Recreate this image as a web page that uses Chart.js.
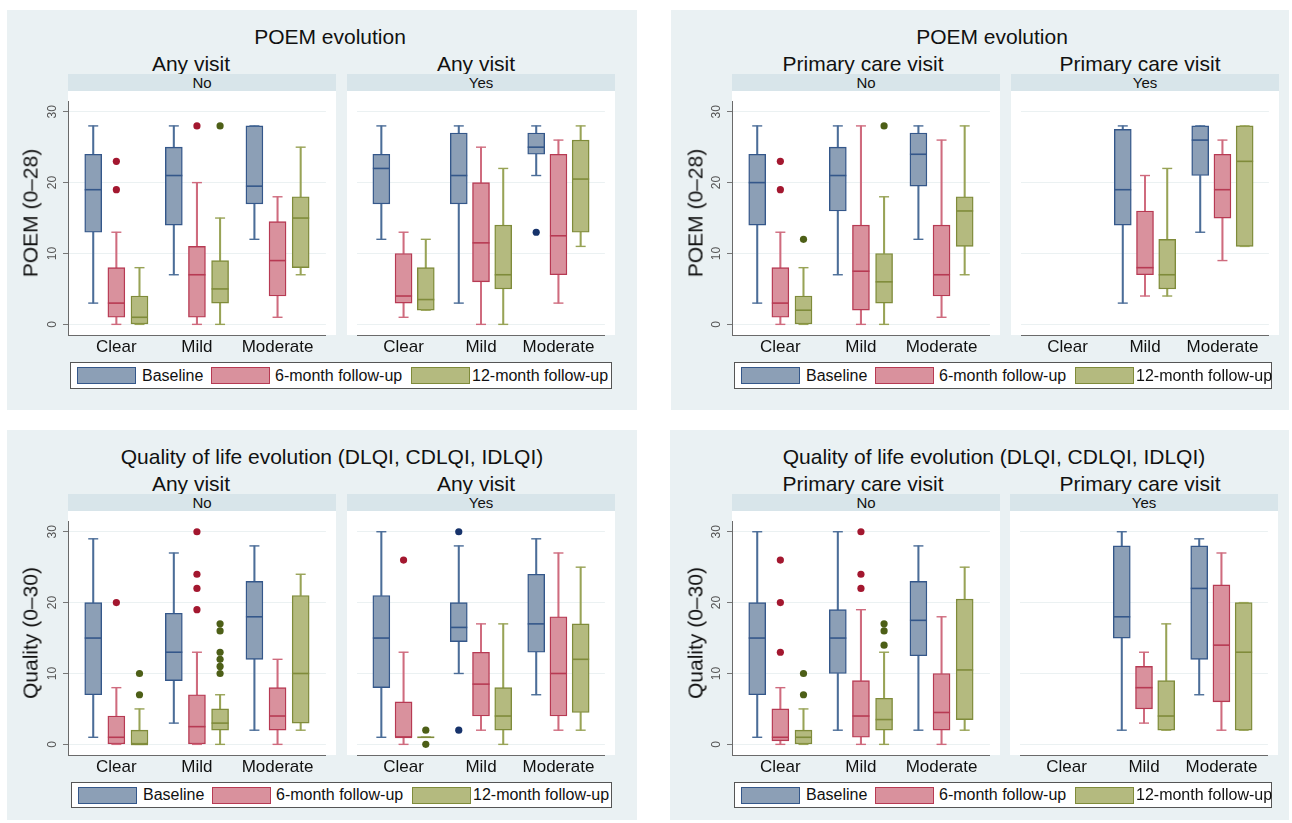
<!DOCTYPE html>
<html><head><meta charset="utf-8">
<script src="https://cdn.jsdelivr.net/npm/chart.js@4.4.1/dist/chart.umd.min.js"></script>
<style>
body{margin:0;width:1292px;height:823px;background:#fff;position:relative;overflow:hidden;font-family:"Liberation Sans",Arial,Helvetica,sans-serif;color:#111;}
.bg{position:absolute;background:#eaf1f3;}
.ctext{position:absolute;white-space:nowrap;transform:translate(-50%,-50%);line-height:1;}
.strip{position:absolute;background:#d8e5ea;font-size:15px;text-align:center;line-height:17px;}
.plotbg{position:absolute;background:#fff;}
.ytitle{position:absolute;font-size:21px;white-space:nowrap;transform:translate(-50%,-50%) rotate(-90deg);line-height:1;}
.legend{position:absolute;background:#fff;border:1px solid #555;box-sizing:border-box;}
.key{position:absolute;box-sizing:border-box;border:1.5px solid;}
.ltext{position:absolute;font-size:16px;white-space:nowrap;line-height:1;transform:translateY(-50%);}
canvas{position:absolute;}
</style></head><body>
<script>
// ---------- DATA ----------
const categories = ['Clear', 'Mild', 'Moderate'];
const seriesNames = ['Baseline', '6-month follow-up', '12-month follow-up'];
const yTicks = [0, 10, 20, 30];

// each category: [min, q1, median, q3, max]; null = no data
// POEM, Any visit = No
const poemAnyNoBaseline = [[3,13,19,24,28],[7,14,21,25,28],[12,17,19.5,28,28]];
const poemAnyNo6m       = [[0,1,3,8,13],[0,1,7,11,20],[1,4,9,14.5,18]];
const poemAnyNo12m      = [[0,0,1,4,8],[0,3,5,9,15],[7,8,15,18,25]];
// outliers per series: [categoryIndex, value]
const poemAnyNoOutBaseline = [];
const poemAnyNoOut6m       = [[0,23],[0,19],[1,28]];
const poemAnyNoOut12m      = [[1,28]];

// POEM, Any visit = Yes
const poemAnyYesBaseline = [[12,17,22,24,28],[3,17,21,27,28],[21,24,25,27,28]];
const poemAnyYes6m       = [[1,3,4,10,13],[0,6,11.5,20,25],[3,7,12.5,24,26]];
const poemAnyYes12m      = [[2,2,3.5,8,12],[0,5,7,14,22],[11,13,20.5,26,28]];
const poemAnyYesOutBaseline = [[2,13]];
const poemAnyYesOut6m       = [];
const poemAnyYesOut12m      = [];

// POEM, Primary care visit = No
const poemPcNoBaseline = [[3,14,20,24,28],[7,16,21,25,28],[12,19.5,24,27,28]];
const poemPcNo6m       = [[0,1,3,8,13],[0,2,7.5,14,28],[1,4,7,14,26]];
const poemPcNo12m      = [[0,0,2,4,8],[0,3,6,10,18],[7,11,16,18,28]];
const poemPcNoOutBaseline = [];
const poemPcNoOut6m       = [[0,23],[0,19]];
const poemPcNoOut12m      = [[0,12],[1,28]];

// POEM, Primary care visit = Yes
const poemPcYesBaseline = [null,[3,14,19,27.5,28],[13,21,26,28,28]];
const poemPcYes6m       = [null,[4,7,8,16,21],[9,15,19,24,26]];
const poemPcYes12m      = [null,[4,5,7,12,22],[11,11,23,28,28]];
const poemPcYesOutBaseline = [];
const poemPcYesOut6m       = [];
const poemPcYesOut12m      = [];

// Quality, Any visit = No
const qolAnyNoBaseline = [[1,7,15,20,29],[3,9,13,18.5,27],[2,12,18,23,28]];
const qolAnyNo6m       = [[0,0,1,4,8],[0,0,2.5,7,13],[0,2,4,8,12]];
const qolAnyNo12m      = [[0,0,0,2,5],[0,2,3,5,7],[2,3,10,21,24]];
const qolAnyNoOutBaseline = [];
const qolAnyNoOut6m       = [[0,20],[1,30],[1,24],[1,22],[1,19]];
const qolAnyNoOut12m      = [[0,10],[0,7],[1,17],[1,16],[1,13],[1,12],[1,11],[1,10]];

// Quality, Any visit = Yes
const qolAnyYesBaseline = [[1,8,15,21,30],[10,14.5,16.5,20,28],[7,13,17,24,29]];
const qolAnyYes6m       = [[0,1,1,6,13],[2,4,8.5,13,17],[2,4,10,18,27]];
const qolAnyYes12m      = [[1,1,1,1,1],[0,2,4,8,17],[2,4.5,12,17,25]];
const qolAnyYesOutBaseline = [[1,30],[1,2]];
const qolAnyYesOut6m       = [[0,26]];
const qolAnyYesOut12m      = [[0,2],[0,0]];

// Quality, Primary care visit = No
const qolPcNoBaseline = [[1,7,15,20,30],[2,10,15,19,30],[2,12.5,17.5,23,28]];
const qolPcNo6m       = [[0,0.5,1,5,8],[0,1,4,9,19],[0,2,4.5,10,18]];
const qolPcNo12m      = [[0,0,1,2,5],[0,2,3.5,6.5,13],[2,3.5,10.5,20.5,25]];
const qolPcNoOutBaseline = [];
const qolPcNoOut6m       = [[0,26],[0,20],[0,13],[1,30],[1,24],[1,22]];
const qolPcNoOut12m      = [[0,10],[0,7],[1,17],[1,16],[1,14]];

// Quality, Primary care visit = Yes
const qolPcYesBaseline = [null,[2,15,18,28,30],[7,12,22,28,29]];
const qolPcYes6m       = [null,[3,5,8,11,13],[2,6,14,22.5,27]];
const qolPcYes12m      = [null,[2,2,4,9,17],[2,2,13,20,20]];
const qolPcYesOutBaseline = [];
const qolPcYesOut6m       = [];
const qolPcYesOut12m      = [];

// ---------- STYLE ----------
const FONT = '"Liberation Sans", Arial, Helvetica, sans-serif';
Chart.defaults.font.family = FONT;
const fillCol    = ['#8c9fb6', '#d9919d', '#b4ba7f'];
const borderCol  = ['#34578a', '#b73a53', '#7f8b3a'];
const whiskerCol = ['#4b6d98', '#cf6b7e', '#98a356'];
const outCol     = ['#17336b', '#a3172f', '#4d5f17'];
const offsets = [-0.287, 0, 0.287];

// ---------- LAYOUT ----------
const panels = [
  {bg:[7,10,630,400], title:'POEM evolution', tx:330, ty:36, sub:'Any visit', sx:[191,476], sy:63,
   L:[68,347], W:268, stripTop:74, plotTop:91, plotBot:335, leg:[70,362,542,27], yt:'POEM (0\u201328)', ytx:30,
   stats:[[poemAnyNoBaseline,poemAnyNo6m,poemAnyNo12m],[poemAnyYesBaseline,poemAnyYes6m,poemAnyYes12m]],
   outs:[[poemAnyNoOutBaseline,poemAnyNoOut6m,poemAnyNoOut12m],[poemAnyYesOutBaseline,poemAnyYesOut6m,poemAnyYesOut12m]]},
  {bg:[671,10,618,400], title:'POEM evolution', tx:992, ty:36, sub:'Primary care visit', sx:[863,1140], sy:63,
   L:[732,1011], W:268, stripTop:74, plotTop:91, plotBot:335, leg:[734,362,538,27], yt:'POEM (0\u201328)', ytx:695,
   stats:[[poemPcNoBaseline,poemPcNo6m,poemPcNo12m],[poemPcYesBaseline,poemPcYes6m,poemPcYes12m]],
   outs:[[poemPcNoOutBaseline,poemPcNoOut6m,poemPcNoOut12m],[poemPcYesOutBaseline,poemPcYesOut6m,poemPcYesOut12m]]},
  {bg:[7,430,630,390], title:'Quality of life evolution (DLQI, CDLQI, IDLQI)', tx:332, ty:456, sub:'Any visit', sx:[191,476], sy:483,
   L:[68,347], W:268, stripTop:494, plotTop:511, plotBot:755, leg:[71,782,541,26], yt:'Quality (0\u201330)', ytx:30,
   stats:[[qolAnyNoBaseline,qolAnyNo6m,qolAnyNo12m],[qolAnyYesBaseline,qolAnyYes6m,qolAnyYes12m]],
   outs:[[qolAnyNoOutBaseline,qolAnyNoOut6m,qolAnyNoOut12m],[qolAnyYesOutBaseline,qolAnyYesOut6m,qolAnyYesOut12m]]},
  {bg:[670,430,619,390], title:'Quality of life evolution (DLQI, CDLQI, IDLQI)', tx:994, ty:456, sub:'Primary care visit', sx:[863,1140], sy:483,
   L:[732,1010], W:268, stripTop:494, plotTop:511, plotBot:755, leg:[734,782,538,26], yt:'Quality (0\u201330)', ytx:695,
   stats:[[qolPcNoBaseline,qolPcNo6m,qolPcNo12m],[qolPcYesBaseline,qolPcYes6m,qolPcYes12m]],
   outs:[[qolPcNoOutBaseline,qolPcNoOut6m,qolPcNoOut12m],[qolPcYesOutBaseline,qolPcYesOut6m,qolPcYesOut12m]]}
];
const stripLabels = ['No', 'Yes'];

function el(cls, css, text) {
  const d = document.createElement('div');
  d.className = cls;
  Object.assign(d.style, css);
  if (text !== undefined) d.textContent = text;
  document.body.appendChild(d);
  return d;
}

function makeChart(left, top, W, H, showY, stats, outs) {
  const padL = showY ? 40 : 0;
  const cv = document.createElement('canvas');
  const cw = W + padL, ch = H + 30;
  cv.width = cw; cv.height = ch;
  cv.style.width = cw + 'px'; cv.style.height = ch + 'px';
  cv.style.left = (left - padL) + 'px'; cv.style.top = top + 'px';
  document.body.appendChild(cv);
  const datasets = [];
  stats.forEach((ser, s) => {
    const valid = [];
    ser.forEach((v, i) => { if (v) valid.push({x: i + 1 + offsets[s], v}); });
    datasets.push({type:'bar', order:3, grouped:false, barThickness:1.4, borderWidth:0,
      backgroundColor: whiskerCol[s], data: valid.map(p => ({x:p.x, y:[p.v[0], p.v[1]]}))});
    datasets.push({type:'bar', order:3, grouped:false, barThickness:1.4, borderWidth:0,
      backgroundColor: whiskerCol[s], data: valid.map(p => ({x:p.x, y:[p.v[3], p.v[4]]}))});
    datasets.push({type:'bar', order:2, grouped:false, barThickness:17, borderWidth:1.4, borderSkipped:false,
      backgroundColor: fillCol[s], borderColor: borderCol[s], data: valid.map(p => ({x:p.x, y:[p.v[1], p.v[3]]}))});
    datasets.push({type:'scatter', order:1, pointStyle:'line', pointRadius:5, pointBorderWidth:1.4,
      pointBorderColor: whiskerCol[s], borderColor: whiskerCol[s],
      data: valid.flatMap(p => [{x:p.x, y:p.v[0]}, {x:p.x, y:p.v[4]}])});
    datasets.push({type:'scatter', order:0, pointStyle:'line', pointRadius:8.5, pointBorderWidth:1.6,
      pointBorderColor: borderCol[s], borderColor: borderCol[s],
      data: valid.map(p => ({x:p.x, y:p.v[2]}))});
    datasets.push({type:'scatter', order:0, pointStyle:'circle', pointRadius:3.6, pointBorderWidth:0,
      pointBackgroundColor: outCol[s], backgroundColor: outCol[s],
      data: outs[s].map(o => ({x: o[0] + 1 + offsets[s], y: o[1]}))});
  });
  new Chart(cv, {
    type: 'bar',
    data: {datasets},
    options: {
      responsive:false, animation:false, events:[],
      layout:{padding:0},
      plugins:{legend:{display:false}, tooltip:{enabled:false}},
      scales:{
        x:{type:'linear', min:0.4, max:3.6, offset:false,
          afterBuildTicks: sc => { sc.ticks = categories.map((c, i) => ({value: i + 1})); },
          ticks:{callback:(v, i) => categories[i], font:{size:17}, color:'#111', padding:2, maxRotation:0, minRotation:0, autoSkip:false},
          grid:{display:false, drawTicks:false, offset:false},
          border:{display:true, color:'#6a6a6a', width:1},
          afterFit: sc => { sc.height = 30; sc.paddingLeft = 0; sc.paddingRight = 0; }
        },
        y:{type:'linear', min:-1.5, max:31.5,
          afterBuildTicks: sc => { sc.ticks = yTicks.map(v => ({value: v})); },
          ticks:{display:showY, minRotation:90, maxRotation:90, crossAlign:'center', padding:4, font:{size:12}, color:'#555'},
          grid:{color:'#ebf1f2', lineWidth:1, drawTicks:showY, tickLength:5, tickColor:'#777', tickWidth:1},
          border:{display:showY, color:'#6a6a6a', width:1},
          afterFit: sc => { sc.width = padL; sc.paddingTop = 0; sc.paddingBottom = 0; }
        }
      }
    }
  });
}

panels.forEach(p => {
  el('bg', {left:p.bg[0]+'px', top:p.bg[1]+'px', width:p.bg[2]+'px', height:p.bg[3]+'px'});
  el('ctext', {left:p.tx+'px', top:p.ty+'px', fontSize:'21px'}, p.title);
  p.L.forEach((L, k) => {
    el('ctext', {left:p.sx[k]+'px', top:p.sy+'px', fontSize:'21px'}, p.sub);
    el('strip', {left:L+'px', top:p.stripTop+'px', width:p.W+'px', height:'17px'}, stripLabels[k]);
    el('plotbg', {left:L+'px', top:p.plotTop+'px', width:p.W+'px', height:(p.plotBot-p.plotTop)+'px'});
    makeChart(L, p.plotTop, p.W, p.plotBot - p.plotTop, k === 0, p.stats[k], p.outs[k]);
  });
  el('ytitle', {left:p.ytx+'px', top:((p.plotTop+p.plotBot)/2)+'px'}, p.yt);
  const [lx, ly, lw, lh] = p.leg;
  const lg = el('legend', {left:lx+'px', top:ly+'px', width:lw+'px', height:lh+'px'});
  const keyX = [6, 140, 340], txtX = [71, 204, 401];
  seriesNames.forEach((n, s) => {
    const k = document.createElement('div');
    k.className = 'key';
    Object.assign(k.style, {left:keyX[s]+'px', top:((lh-2-17)/2)+'px', width:'59px', height:'17px',
      background:fillCol[s], borderColor:borderCol[s]});
    lg.appendChild(k);
    const t = document.createElement('div');
    t.className = 'ltext';
    Object.assign(t.style, {left:txtX[s]+'px', top:((lh-2)/2)+'px'});
    t.textContent = n;
    lg.appendChild(t);
  });
});
</script>
</body></html>
